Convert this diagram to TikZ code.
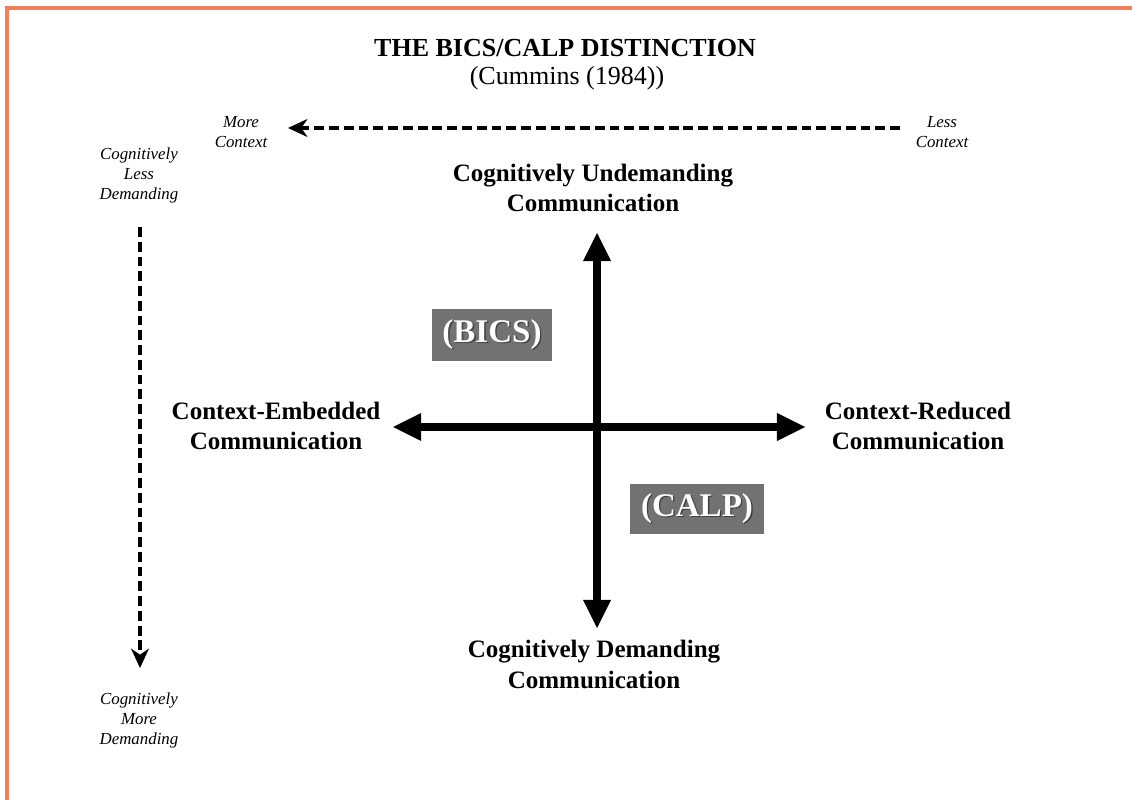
\documentclass[tikz,border=0pt]{standalone}
\usepackage{fontspec}
\setmainfont{Liberation Serif}
\usepackage{xcolor}
\usetikzlibrary{arrows.meta,positioning}

\definecolor{frameorange}{RGB}{240,128,90}
\definecolor{boxgray}{RGB}{114,114,114}
\newcommand{\embossed}[1]{\rlap{\kern1pt\raisebox{-1pt}{\color{black!75}#1}}{\color{white}#1}}

\begin{document}
\begin{tikzpicture}[x=0.025cm, y=-0.025cm,
    heading/.style={font=\fontsize{18.5}{22}\selectfont\bfseries, anchor=base},
    axislabel/.style={font=\fontsize{17.8}{22}\selectfont\bfseries, align=center},
    sidenote/.style={font=\fontsize{12}{14.2}\selectfont\itshape, align=center},
    tagbox/.style={fill=boxgray, inner sep=0pt, font=\fontsize{23.5}{26}\selectfont\bfseries},
    axis/.style={line width=5pt, {Triangle[length=20pt,width=20pt,line width=0pt]}-{Triangle[length=20pt,width=20pt,line width=0pt]}},
    guide/.style={line width=2.2pt, dash pattern=on 7pt off 3.5pt, -{Stealth[length=14pt,width=13pt,line width=0pt]}}
  ]
    \useasboundingbox[fill=white] (0,0) rectangle (1132,800);
    % Frame
    \draw[frameorange, line width=2.2pt] (7,800) -- (7,8) -- (1132,8);
    % Title
    \node[heading] (title) at (565,57) {THE BICS/CALP DISTINCTION};
    \node[heading, font=\fontsize{18.5}{22}\selectfont] (source) at (567,85) {(Cummins (1984))};
    % Axis labels
    \node[axislabel] (undemanding) at (593,188) {Cognitively Undemanding\\Communication};
    \node[axislabel] (demanding) at (594,664) {Cognitively Demanding\\Communication};
    \node[axislabel] (embedded) at (276,426) {Context-Embedded\\Communication};
    \node[axislabel] (reduced) at (918,426) {Context-Reduced\\Communication};
    % Side notes
    \node[sidenote] (morectx) at (241,132) {More\\Context};
    \node[sidenote] (lessctx) at (942,132) {Less\\Context};
    \node[sidenote] (lessdem) at (139,175) {Cognitively\\Less\\Demanding};
    \node[sidenote] (moredem) at (139,720) {Cognitively\\More\\Demanding};
    % Tags
    \node[tagbox, minimum width=86pt, minimum height=37pt] (bics) at (492,335) {\embossed{(BICS)}};
    \node[tagbox, minimum width=95pt, minimum height=35.5pt] (calp) at (697,509) {\embossed{(CALP)}};
    % Axes
    \coordinate (ctop) at (597,233);
    \coordinate (cbot) at (597,628);
    \coordinate (cleft) at (393,427);
    \coordinate (cright) at (805,427);
    \draw[axis] (cbot) -- (ctop);
    \draw[axis] (cleft) -- (cright);
    % Context and demand guides
    \coordinate (hstart) at (900,128);
    \coordinate (hend) at (288,128);
    \coordinate (vstart) at (140,227);
    \coordinate (vend) at (140,668);
    \draw[guide] (hstart) -- (hend);
    \draw[guide] (vstart) -- (vend);
\end{tikzpicture}
\end{document}
